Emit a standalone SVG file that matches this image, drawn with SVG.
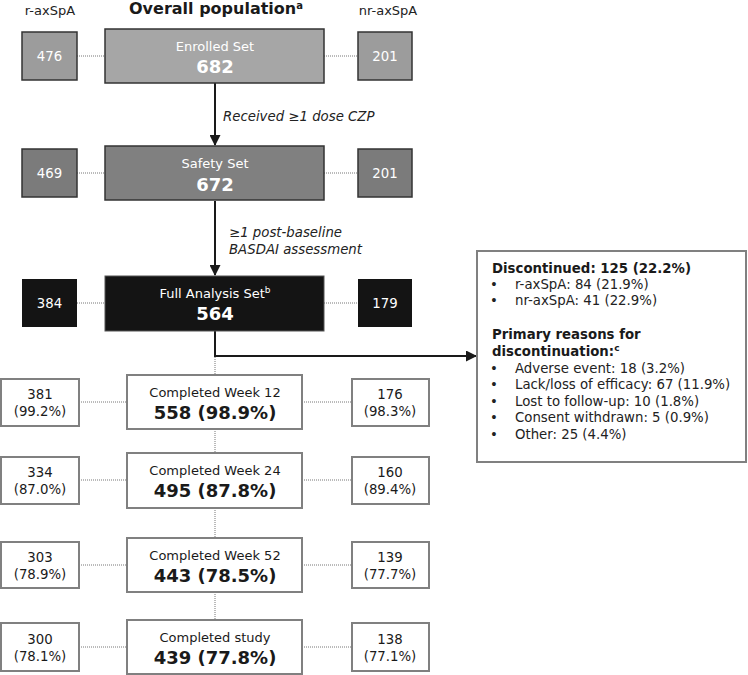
<svg xmlns="http://www.w3.org/2000/svg" width="748" height="675" viewBox="0 0 748 675">
<style>
text{font-family:"DejaVu Sans","Liberation Sans",sans-serif;}
.hdr{font-size:13px;fill:#222;text-anchor:middle;}
.title{font-size:16px;font-weight:bold;fill:#1a1a1a;text-anchor:middle;}
.lbl{font-size:13px;text-anchor:middle;}
.big{font-size:18px;font-weight:bold;text-anchor:middle;}
.w{fill:#fff;}
.k{fill:#1a1a1a;}
.side{font-size:13.3px;text-anchor:middle;}
.ital{font-size:13.3px;font-style:italic;fill:#222;}
.disc{font-size:13.3px;fill:#222;}
.discb{font-size:13.3px;font-weight:bold;fill:#1a1a1a;}
.gbox{stroke:#333;stroke-width:1.5;}
.wbox{fill:#fff;stroke:#808080;stroke-width:2;}
.dot{stroke:#777;stroke-width:1;stroke-dasharray:1 1;fill:none;}
.solid{stroke:#1a1a1a;stroke-width:2;fill:none;}
</style>
<defs>
<marker id="ah" markerWidth="11" markerHeight="11" refX="10" refY="5.5" orient="auto" markerUnits="userSpaceOnUse">
<path d="M0,0 L11,5.5 L0,11 z" fill="#1a1a1a"/>
</marker>
</defs>

<text class="hdr" x="50" y="15">r-axSpA</text>
<text class="title" x="216" y="14">Overall population<tspan font-size="10" dy="-5">a</tspan></text>
<text class="hdr" x="388" y="15">nr-axSpA</text>

<g id="connectors">
<line class="dot" x1="77" y1="56" x2="105" y2="56"/>
<line class="dot" x1="324" y1="56" x2="358" y2="56"/>
<line class="dot" x1="77" y1="173" x2="105" y2="173"/>
<line class="dot" x1="324" y1="173" x2="358" y2="173"/>
<line class="dot" x1="77" y1="303" x2="105" y2="303"/>
<line class="dot" x1="324" y1="303" x2="358" y2="303"/>
<line class="solid" x1="215" y1="83" x2="215" y2="145" marker-end="url(#ah)"/>
<line class="solid" x1="215" y1="201" x2="215" y2="275" marker-end="url(#ah)"/>
<polyline class="solid" points="215,331 215,356 476,356" marker-end="url(#ah)"/>
<line class="dot" x1="215" y1="357" x2="215" y2="375"/>
<line class="dot" x1="215" y1="429" x2="215" y2="453"/>
<line class="dot" x1="215" y1="508" x2="215" y2="538"/>
<line class="dot" x1="215" y1="592" x2="215" y2="620"/>
<line class="dot" x1="79" y1="402" x2="127" y2="402"/>
<line class="dot" x1="302" y1="402" x2="352" y2="402"/>
<line class="dot" x1="79" y1="480" x2="127" y2="480"/>
<line class="dot" x1="302" y1="480" x2="352" y2="480"/>
<line class="dot" x1="79" y1="565" x2="127" y2="565"/>
<line class="dot" x1="302" y1="565" x2="352" y2="565"/>
<line class="dot" x1="79" y1="647" x2="127" y2="647"/>
<line class="dot" x1="302" y1="647" x2="352" y2="647"/>
<text class="ital" x="223" y="121" font-size="13.8">Received ≥1 dose CZP</text>
<text class="ital" x="229" y="237">≥1 post-baseline</text>
<text class="ital" x="229" y="254" font-size="13">BASDAI assessment</text>
</g>

<g id="enrolled">
<rect class="gbox" x="105" y="29" width="219" height="54" fill="#a6a6a6"/>
<text class="lbl w" x="215" y="51">Enrolled Set</text>
<text class="big w" x="215" y="73">682</text>
</g>
<g id="enrolled-r">
<rect class="gbox" x="22" y="32" width="55" height="48" fill="#9c9c9c"/>
<text class="side w" x="49.5" y="61">476</text>
</g>
<g id="enrolled-nr">
<rect class="gbox" x="358" y="32" width="54" height="48" fill="#9c9c9c"/>
<text class="side w" x="385" y="61">201</text>
</g>

<g id="safety">
<rect class="gbox" x="105" y="146" width="219" height="54" fill="#808080"/>
<text class="lbl w" x="215" y="168">Safety Set</text>
<text class="big w" x="215" y="191">672</text>
</g>
<g id="safety-r">
<rect class="gbox" x="22" y="149" width="55" height="48" fill="#7b7b7b"/>
<text class="side w" x="49.5" y="178">469</text>
</g>
<g id="safety-nr">
<rect class="gbox" x="358" y="149" width="54" height="48" fill="#7b7b7b"/>
<text class="side w" x="385" y="178">201</text>
</g>

<g id="fas">
<rect x="105" y="276" width="219" height="55" fill="#141414" stroke="#555" stroke-width="1"/>
<text class="lbl w" x="215" y="298">Full Analysis Set<tspan font-size="9" dy="-5">b</tspan></text>
<text class="big w" x="215" y="320">564</text>
</g>
<g id="fas-r">
<rect x="22" y="279" width="55" height="48" fill="#141414"/>
<text class="side w" x="49.5" y="308">384</text>
</g>
<g id="fas-nr">
<rect x="358" y="279" width="54" height="48" fill="#141414"/>
<text class="side w" x="385" y="308">179</text>
</g>

<g id="wk12">
<rect class="wbox" x="127" y="375" width="175" height="54"/>
<text class="lbl k" x="215" y="397">Completed Week 12</text>
<text class="big k" x="215" y="419">558 (98.9%)</text>
</g>
<g id="wk12-r">
<rect class="wbox" x="1" y="379" width="78" height="47"/>
<text class="side k" x="40" y="399">381</text>
<text class="side k" x="40" y="416">(99.2%)</text>
</g>
<g id="wk12-nr">
<rect class="wbox" x="352" y="379" width="77" height="47"/>
<text class="side k" x="390" y="399">176</text>
<text class="side k" x="390" y="416">(98.3%)</text>
</g>

<g id="wk24">
<rect class="wbox" x="127" y="453" width="175" height="55"/>
<text class="lbl k" x="215" y="475">Completed Week 24</text>
<text class="big k" x="215" y="497">495 (87.8%)</text>
</g>
<g id="wk24-r">
<rect class="wbox" x="1" y="457" width="78" height="47"/>
<text class="side k" x="40" y="477">334</text>
<text class="side k" x="40" y="494">(87.0%)</text>
</g>
<g id="wk24-nr">
<rect class="wbox" x="352" y="457" width="77" height="47"/>
<text class="side k" x="390" y="477">160</text>
<text class="side k" x="390" y="494">(89.4%)</text>
</g>

<g id="wk52">
<rect class="wbox" x="127" y="538" width="175" height="54"/>
<text class="lbl k" x="215" y="560">Completed Week 52</text>
<text class="big k" x="215" y="582">443 (78.5%)</text>
</g>
<g id="wk52-r">
<rect class="wbox" x="1" y="542" width="78" height="46"/>
<text class="side k" x="40" y="562">303</text>
<text class="side k" x="40" y="579">(78.9%)</text>
</g>
<g id="wk52-nr">
<rect class="wbox" x="352" y="542" width="77" height="46"/>
<text class="side k" x="390" y="562">139</text>
<text class="side k" x="390" y="579">(77.7%)</text>
</g>

<g id="study">
<rect class="wbox" x="127" y="620" width="175" height="54"/>
<text class="lbl k" x="215" y="642">Completed study</text>
<text class="big k" x="215" y="664">439 (77.8%)</text>
</g>
<g id="study-r">
<rect class="wbox" x="1" y="623" width="78" height="48"/>
<text class="side k" x="40" y="644">300</text>
<text class="side k" x="40" y="661">(78.1%)</text>
</g>
<g id="study-nr">
<rect class="wbox" x="352" y="623" width="77" height="48"/>
<text class="side k" x="390" y="644">138</text>
<text class="side k" x="390" y="661">(77.1%)</text>
</g>

<g id="discontinued">
<rect class="wbox" x="477" y="251" width="269" height="211"/>
<text class="discb" x="492" y="273">Discontinued: 125 (22.2%)</text>
<text class="disc" x="490" y="289">•</text><text class="disc" x="515" y="289">r-axSpA: 84 (21.9%)</text>
<text class="disc" x="490" y="305">•</text><text class="disc" x="515" y="305">nr-axSpA: 41 (22.9%)</text>
<text class="discb" x="492" y="339">Primary reasons for</text>
<text class="discb" x="492" y="356">discontinuation:<tspan font-size="9" dy="-5">c</tspan></text>
<text class="disc" x="490" y="373">•</text><text class="disc" x="515" y="373">Adverse event: 18 (3.2%)</text>
<text class="disc" x="490" y="389">•</text><text class="disc" x="515" y="389">Lack/loss of efficacy: 67 (11.9%)</text>
<text class="disc" x="490" y="406">•</text><text class="disc" x="515" y="406">Lost to follow-up: 10 (1.8%)</text>
<text class="disc" x="490" y="422">•</text><text class="disc" x="515" y="422">Consent withdrawn: 5 (0.9%)</text>
<text class="disc" x="490" y="439">•</text><text class="disc" x="515" y="439">Other: 25 (4.4%)</text>
</g>
</svg>
